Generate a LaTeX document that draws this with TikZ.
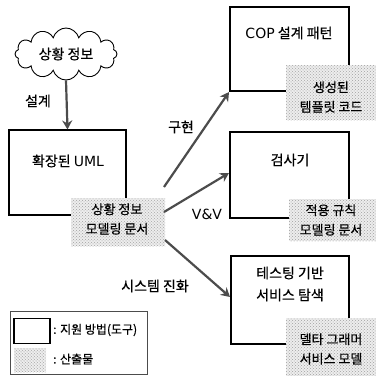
\documentclass[tikz,border=0pt]{standalone}
\usepackage{fontspec}
\setmainfont{Noto Sans CJK KR}[FakeBold=0.6]
\newfontfamily\latfont{DejaVu Sans}
\newcommand{\lat}[1]{{\latfont #1}}
\usetikzlibrary{shapes.symbols,arrows.meta,patterns}
\begin{document}
\begin{tikzpicture}[x=1pt,y=-1pt,
  tool/.style={draw=black,line width=1.1pt,rectangle,inner sep=0pt},
  artifact/.style={rectangle,inner sep=0pt,fill=gray!14,postaction={pattern=crosshatch dots,pattern color=gray!75}},
  boxtext/.style={font=\fontsize{14}{22}\selectfont,align=center,inner sep=0pt},
  arttext/.style={font=\fontsize{13}{19.5}\selectfont,align=center,inner sep=0pt},
  lbl/.style={font=\fontsize{14}{16}\selectfont,inner sep=0pt},
  leglbl/.style={font=\fontsize{12}{14}\selectfont,inner sep=0pt,anchor=west},
  flow/.style={draw=black!70,line width=2.2pt,-{Stealth[length=9pt,width=10pt]}}]
\useasboundingbox (0,0) rectangle (376,376);
% cloud
\node[cloud,cloud puffs=12,draw,line width=0.9pt,minimum width=102pt,minimum height=52pt,aspect=2.2,inner sep=0pt,font=\fontsize{14}{16}\selectfont] (cloud) at (66,54) {상황 정보};
% boxes
\node[tool,minimum width=117pt,minimum height=85pt] (uml) at (67.5,172.5) {};
\node[boxtext] (umlt) at (68,161) {확장된 \lat{UML}};
\node[tool,minimum width=119pt,minimum height=84pt] (cop) at (289.5,49) {};
\node[boxtext] (copt) at (289,33) {\lat{COP} 설계 패턴};
\node[tool,minimum width=119pt,minimum height=86pt] (chk) at (289.5,175) {};
\node[boxtext] (chkt) at (290,160) {검사기};
\node[tool,minimum width=118pt,minimum height=88pt] (tst) at (290,300) {};
\node[boxtext] (tstt) at (290,284) {테스팅 기반\\서비스 탐색};
% artifacts
\node[artifact,minimum width=94pt,minimum height=48pt] (ua) at (118,222) {};
\node[arttext] (uat) at (117,219) {상황 정보\\모델링 문서};
\node[artifact,minimum width=90pt,minimum height=55pt] (ca) at (331,92.5) {};
\node[arttext] (cat) at (331,97) {생성된\\템플릿 코드};
\node[artifact,minimum width=87pt,minimum height=42pt] (ka) at (332.5,220) {};
\node[arttext] (kat) at (331,220) {적용 규칙\\모델링 문서};
\node[artifact,minimum width=90pt,minimum height=58pt] (ta) at (331,347) {};
\node[arttext] (tat) at (331,349) {델타 그래머\\서비스 모델};
% arrow endpoints
\coordinate (s1) at (164,187);
\coordinate (s2) at (164,212);
\coordinate (s3) at (165,240);
\coordinate (e1) at (229,92);
\coordinate (e2) at (229,173);
\coordinate (e3) at (230,297);
\draw[flow] (cloud.south) -- (uml.north);
\draw[flow] (s1) -- (e1);
\draw[flow] (s2) -- (e2);
\draw[flow] (s3) -- (e3);
% labels
\node[lbl] (l0) at (38,101) {설계};
\node[lbl] (l1) at (181,127) {구현};
\node[lbl] (l2) at (207,214) {\lat{V\&V}};
\node[lbl] (l3) at (155,286) {시스템 진화};
% legend
\node[draw=black!70,line width=0.6pt,rectangle,minimum width=137pt,minimum height=63pt,inner sep=0pt] (leg) at (78.5,342.5) {};
\node[tool,minimum width=36pt,minimum height=25pt] (lt) at (32,331) {};
\node[leglbl] (ltt) at (53,330) {: 지원 방법(도구)};
\node[artifact,minimum width=32pt,minimum height=24pt] (la) at (30,360) {};
\node[leglbl] (lat) at (53,359) {: 산출물};
\end{tikzpicture}
\end{document}
